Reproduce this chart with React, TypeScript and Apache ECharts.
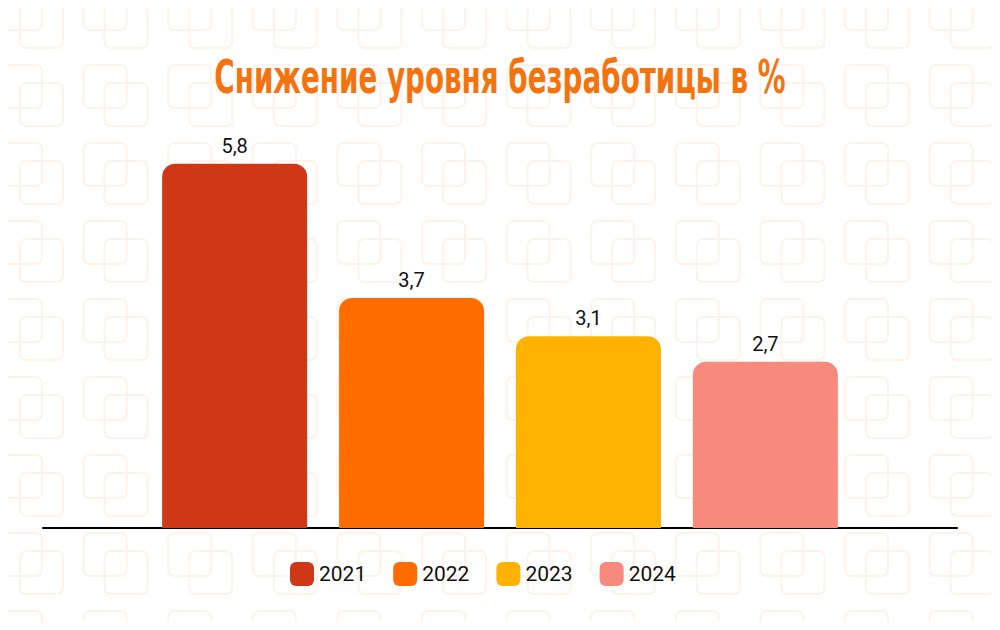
import React, { useEffect, useRef } from "react";
import * as echarts from "echarts";

const titleText = "Снижение уровня безработицы в %";
const categories = [""];
const seriesNames = ["2021", "2022", "2023", "2024"];
const values = [5.8, 3.7, 3.1, 2.7];
const colors = ["#cf3817", "#ff6d00", "#ffb300", "#f78a7c"];

function buildPattern() {
  const els: any[] = [];
  const style = { fill: "none", stroke: "#fdf3eb", lineWidth: 2 };
  for (let i = 0; i < 13; i++) {
    for (let j = 0; j < 9; j++) {
      const ax = -1 + 84.6 * i;
      const ay = -13 + 78 * j;
      els.push({
        type: "rect",
        silent: true,
        z: -10,
        shape: { x: ax, y: ay, width: 43, height: 43, r: 6 },
        style,
      });
      els.push({
        type: "rect",
        silent: true,
        z: -10,
        shape: { x: ax + 21, y: ay + 18, width: 43, height: 43, r: 6 },
        style,
      });
    }
  }
  return els;
}

export default function App() {
  const ref = useRef<HTMLDivElement>(null);
  useEffect(() => {
    if (!ref.current) return;
    const chart = echarts.init(ref.current, null, { renderer: "svg" });
    chart.setOption({
      animation: false,
      backgroundColor: "#ffffff",
      graphic: [
        ...buildPattern(),
        {
          type: "text",
          z: 10,
          x: 500,
          y: 77,
          scaleX: 0.591,
          style: {
            text: titleText,
            fill: "#f5730f",
            font: "bold 47px 'DejaVu Sans', Roboto, sans-serif",
            textAlign: "center",
            textVerticalAlign: "middle",
          },
        },
      ],
      legend: {
        top: 557,
        left: 285,
        itemWidth: 24,
        itemHeight: 24,
        itemGap: 27,
        icon: "roundRect",
        textStyle: { fontSize: 21, color: "#111", fontFamily: "Roboto" },
        data: seriesNames,
      },
      grid: { left: 43, right: 43, top: 151, bottom: 102 },
      xAxis: {
        type: "category",
        data: categories,
        axisLine: { show: true, lineStyle: { color: "#000", width: 2 } },
        axisTick: { show: false },
        axisLabel: { show: false },
      },
      yAxis: { type: "value", min: 0.1, max: 6, show: false, splitLine: { show: false } },
      series: seriesNames.map((name, i) => ({
        name,
        type: "bar",
        data: [values[i]],
        barWidth: 145,
        barGap: "22%",
        itemStyle: { color: colors[i], borderRadius: [13, 13, 0, 0] },
        label: {
          show: true,
          position: "top",
          distance: 8,
          fontSize: 20,
          color: "#111",
          fontFamily: "Roboto",
          formatter: (p: any) => String(p.value).replace(".", ","),
        },
      })),
    });
    return () => chart.dispose();
  }, []);
  return <div ref={ref} style={{ width: 1000, height: 630, margin: -8 }} />;
}
